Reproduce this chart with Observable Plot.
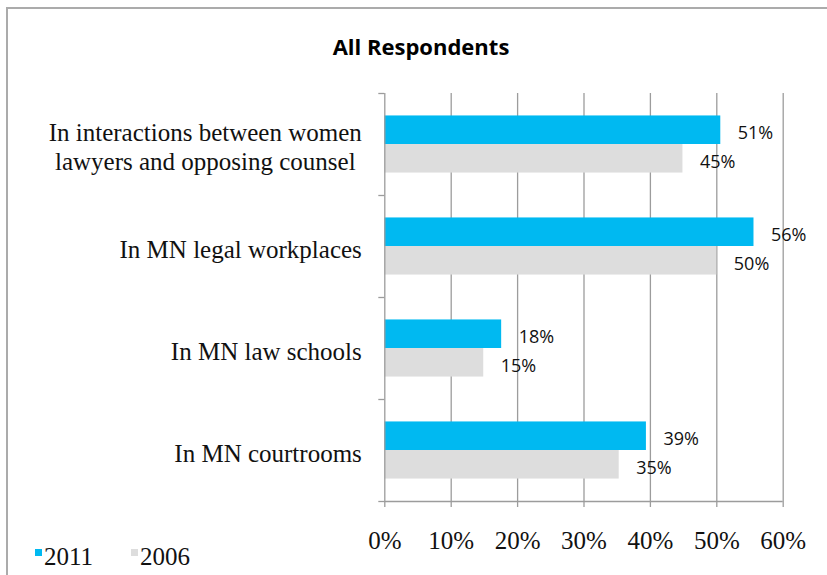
<!DOCTYPE html>
<html>
<head>
<meta charset="utf-8">
<script src="https://cdn.jsdelivr.net/npm/d3@7"></script>
<script src="https://cdn.jsdelivr.net/npm/@observablehq/plot@0.6"></script>
<style>
  html, body { margin: 0; padding: 0; background: #fff; overflow: hidden; }
  #wrap { position: relative; width: 827px; height: 575px; overflow: hidden; }
  #frame { position: absolute; left: 6px; top: 7px; width: 900px; height: 700px;
           border-left: 2px solid #ababab; border-top: 2px solid #ababab; }
  #title { position: absolute; top: 35px; left: 0; width: 842px; text-align: center;
           font: bold 22px/22px "Open Sans", sans-serif; color: #000; }
  #chart { position: absolute; left: 0; top: 75px; }
  #legend { position: absolute; left: 0; top: 544px; font: 25px/25px "Liberation Serif", serif; color: #111; }
  #legend .item { position: absolute; white-space: nowrap; }
  #legend .sw { display: inline-block; width: 7px; height: 7px; vertical-align: top; margin-top: 5px; margin-right: 2px; }
</style>
</head>
<body>
<div id="wrap">
  <div id="frame"></div>
  <div id="title"></div>
  <div id="chart"></div>
  <div id="legend"></div>
</div>
<script>
// ---- data ----
const title = "All Respondents";
const categories = [
  "In interactions between women\nlawyers and opposing counsel",
  "In MN legal workplaces",
  "In MN law schools",
  "In MN courtrooms"
];
const series = ["2011", "2006"];
const values2011 = [50.6, 55.6, 17.6, 39.4];
const values2006 = [44.9, 50.0, 14.9, 35.3];
const seriesColors = ["#00B9F1", "#DDDDDD"];
const xTicks = [0, 10, 20, 30, 40, 50, 60];

// ---- build table ----
const seriesValues = [values2011, values2006];
const rows = [];
categories.forEach((c, i) => {
  series.forEach((s, k) => {
    rows.push({
      category: c,
      index: i,
      series: s,
      value: seriesValues[k][i],
      y1: i + (k === 0 ? 0.22 : 0.5),
      y2: i + (k === 0 ? 0.5 : 0.78)
    });
  });
});

document.getElementById("title").textContent = title;

// measure category label widths to center multi-line labels, right-aligned block
const ctx = document.createElement("canvas").getContext("2d");
ctx.font = '25px "Liberation Serif"';
const labelGap = 23;

const labelMarks = categories.map((c, i) => {
  const w = d3.max(c.split("\n"), l => ctx.measureText(l).width);
  return Plot.text([{category: c, mid: i + 0.5}], {
    x: () => 0, y: "mid", text: "category",
    textAnchor: "middle", lineAnchor: "middle", lineHeight: 1.13,
    dx: -(labelGap + w / 2), dy: 2,
    fontFamily: "Liberation Serif", fontSize: 25, fill: "#111"
  });
});

const gridColor = "#9c9c9c";

const chart = Plot.plot({
  width: 827,
  height: 480,
  marginLeft: 384.3,
  marginRight: 44.3,
  marginTop: 18,
  marginBottom: 54,
  x: { domain: [0, 60], label: null },
  y: { domain: [0, categories.length], reverse: true, label: null },
  color: { domain: series, range: seriesColors },
  style: { fontFamily: "Liberation Serif", fontSize: "25px", color: "#111", background: "transparent", overflow: "visible" },
  marks: [
    Plot.gridX(xTicks.filter(t => t > 0), { stroke: gridColor, strokeOpacity: 1, strokeWidth: 1.3 }),
    Plot.rect(rows, { x1: () => 0, x2: "value", y1: "y1", y2: "y2", fill: "series" }),
    Plot.ruleX([0], { y1: () => 0, y2: () => categories.length, stroke: gridColor, strokeWidth: 1.3 }),
    Plot.ruleY([categories.length], { stroke: gridColor, strokeWidth: 1.3 }),
    Plot.axisY({ ticks: d3.range(0, categories.length + 1), tickFormat: () => "", tickSize: 6, stroke: gridColor, strokeWidth: 1.3, label: null }),
    Plot.axisX({ ticks: xTicks, tickSize: 6, tickPadding: 24, tickFormat: d => d + "%", stroke: gridColor, strokeWidth: 1.3, fill: "#111", fontSize: 25, label: null }),
    Plot.text(rows, {
      x: "value", y: d => (d.y1 + d.y2) / 2, text: d => Math.round(d.value) + "%",
      textAnchor: "start", dx: 17, dy: 3, fontFamily: "Open Sans", fontSize: 18, fill: "#111"
    }),
    ...labelMarks
  ]
});
document.getElementById("chart").appendChild(chart);

// legend
const legend = document.getElementById("legend");
const legendLeft = [35, 131];
series.forEach((s, k) => {
  const item = document.createElement("span");
  item.className = "item";
  item.style.left = legendLeft[k] + "px";
  const sw = document.createElement("span");
  sw.className = "sw";
  sw.style.background = seriesColors[k];
  item.appendChild(sw);
  item.appendChild(document.createTextNode(s));
  legend.appendChild(item);
});
</script>
</body>
</html>
